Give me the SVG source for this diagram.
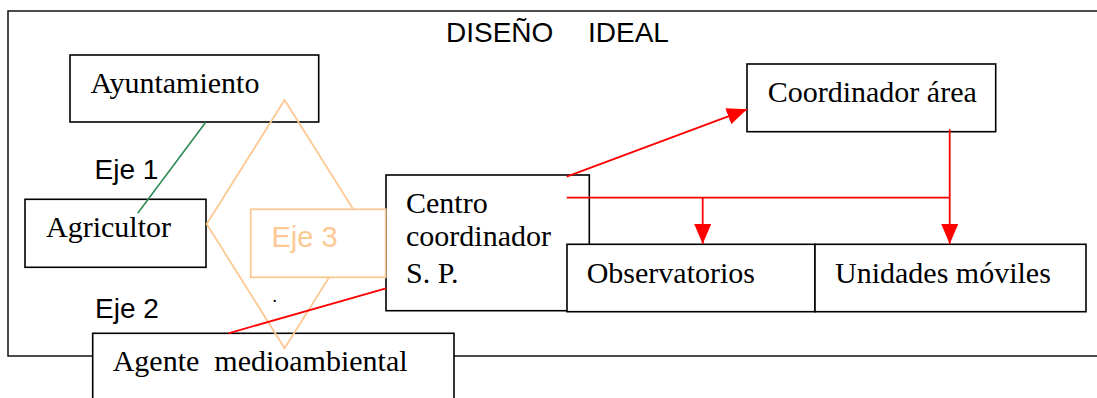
<svg xmlns="http://www.w3.org/2000/svg" width="1097" height="398" viewBox="0 0 1097 398">
<style>
.box{fill:#fff;stroke:#000;stroke-width:1.6}
.serif{font-family:"Liberation Serif","Times New Roman",serif;font-size:30px;fill:#000}
.sans{font-family:"Liberation Sans",Arial,sans-serif;font-size:28px;fill:#000}
.red{stroke:#ff0000;stroke-width:1.8;fill:none}
.orange{stroke:#fcc894;stroke-width:1.8}
</style>
<defs>
<marker id="arr" markerUnits="userSpaceOnUse" markerWidth="22" markerHeight="18" refX="20" refY="8.5" orient="auto">
<path d="M0,0 L20,8.5 L0,17 Z" fill="#ff0000"/>
</marker>
</defs>
<rect width="1097" height="398" fill="#fff"/>
<g id="frame">
<rect x="8" y="11" width="1100" height="345" fill="none" stroke="#000" stroke-width="1.4"/>
<text class="sans" x="446" y="42">DISEÑO</text>
<text class="sans" x="588" y="42">IDEAL</text>
</g>
<g id="ayuntamiento">
<rect class="box" x="70" y="55" width="248.7" height="67"/>
<text class="serif" x="90.5" y="93">Ayuntamiento</text>
</g>
<g id="agricultor">
<rect class="box" x="25" y="199.3" width="181" height="68"/>
<text class="serif" x="46" y="237">Agricultor</text>
</g>
<g id="centro">
<rect class="box" x="386" y="175" width="203.3" height="135.7"/>
<text class="serif" x="406" y="212.5">Centro</text>
<text class="serif" x="406" y="246">coordinador</text>
<text class="serif" x="406" y="282.5">S. P.</text>
</g>
<g id="observatorios">
<rect class="box" x="567" y="244.3" width="248" height="67.4"/>
<text class="serif" x="586.7" y="283.3">Observatorios</text>
</g>
<g id="unidades">
<rect class="box" x="815" y="244.3" width="271" height="67.4"/>
<text class="serif" x="835" y="283.3">Unidades móviles</text>
</g>
<g id="coordinador">
<rect class="box" x="747" y="64" width="248.7" height="67.7"/>
<text class="serif" x="767.7" y="101.7">Coordinador área</text>
</g>
<g id="agente">
<rect class="box" x="92.7" y="333.3" width="361.3" height="80"/>
<text class="serif" x="112.7" y="370.7" xml:space="preserve">Agente  medioambiental</text>
</g>
<g id="eje1"><text class="sans" x="94.5" y="179.3">Eje 1</text></g>
<g id="eje2"><text class="sans" x="95" y="317.7">Eje 2</text></g>
<g id="diamond">
<polygon class="orange" fill="none" points="284.6,100 362.5,224 284.6,348.3 206.7,224"/>
</g>
<g id="eje3">
<rect class="orange" fill="#fff" x="250.7" y="209.3" width="135" height="68"/>
<text x="271.5" y="246.7" style="font-family:'Liberation Sans',Arial,sans-serif;font-size:29px;fill:#fcc894">Eje 3</text>
</g>
<g id="dot"><text class="serif" x="272.5" y="302" style="font-size:18px">.</text></g>
<g id="connectors">
<line x1="205.7" y1="122.3" x2="137.7" y2="213.3" stroke="#2e8b57" stroke-width="1.6"/>
<line class="red" x1="566.7" y1="176.7" x2="747" y2="109.3" marker-end="url(#arr)"/>
<line class="red" x1="566.7" y1="197.7" x2="949.7" y2="197.7"/>
<line class="red" x1="949.7" y1="129.3" x2="949.7" y2="244" marker-end="url(#arr)"/>
<line class="red" x1="702.7" y1="197.7" x2="702.7" y2="244" marker-end="url(#arr)"/>
<line class="red" x1="228.3" y1="333.3" x2="386" y2="288.3"/>
</g>
</svg>
